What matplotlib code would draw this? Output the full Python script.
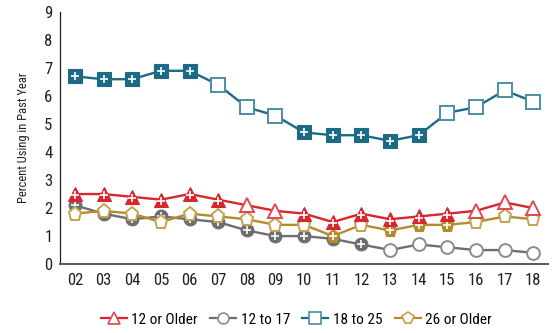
import numpy as np
import matplotlib.pyplot as plt
from matplotlib import font_manager

# condensed sans if present, otherwise regular
families = []
for fam in ['Liberation Sans Narrow', 'Roboto Condensed', 'Liberation Sans']:
    try:
        font_manager.findfont(fam, fallback_to_default=False)
        families.append(fam)
    except ValueError:
        pass
plt.rcParams['font.family'] = families + ['DejaVu Sans']

years = ['02', '03', '04', '05', '06', '07', '08', '09', '10',
         '11', '12', '13', '14', '15', '16', '17', '18']

age_12_older = [2.5, 2.5, 2.4, 2.3, 2.5, 2.3, 2.1, 1.9, 1.8,
                1.5, 1.8, 1.6, 1.7, 1.8, 1.9, 2.2, 2.0]
age_12_17 = [2.1, 1.8, 1.6, 1.7, 1.6, 1.5, 1.2, 1.0, 1.0,
             0.9, 0.7, 0.5, 0.7, 0.6, 0.5, 0.5, 0.4]
age_18_25 = [6.7, 6.6, 6.6, 6.9, 6.9, 6.4, 5.6, 5.3, 4.7,
             4.6, 4.6, 4.4, 4.6, 5.4, 5.6, 6.2, 5.8]
age_26_older = [1.8, 1.9, 1.8, 1.5, 1.8, 1.7, 1.6, 1.4, 1.4,
                1.0, 1.4, 1.2, 1.4, 1.4, 1.5, 1.7, 1.6]

# 1 = estimate differs significantly from the 2018 estimate (filled marker with +)
sig_12_older = [1, 1, 1, 1, 1, 1, 0, 0, 1, 1, 1, 1, 1, 1, 0, 0, 0]
sig_12_17 = [1, 1, 1, 1, 1, 1, 1, 1, 1, 1, 1, 0, 0, 0, 0, 0, 0]
sig_18_25 = [1, 1, 1, 1, 1, 0, 0, 0, 1, 1, 1, 1, 1, 0, 0, 0, 0]
sig_26_older = [0, 0, 0, 0, 0, 0, 0, 0, 0, 1, 0, 1, 1, 1, 0, 0, 0]

# label, values, significance, line colour, open-marker edge, marker, size, layer
series = [
    ('12 or Older', age_12_older, sig_12_older, '#d7262e', '#df4a52', '^', 10.2, 40),
    ('12 to 17', age_12_17, sig_12_17, '#6d6e71', '#8a8b8e', 'o', 9.2, 10),
    ('18 to 25', age_18_25, sig_18_25, '#1d6a86', '#4c8ea8', 's', 9.4, 30),
    ('26 or Older', age_26_older, sig_26_older, '#b38d2c', '#c4a24e', 'p', 9.8, 20),
]

fig = plt.figure(figsize=(5.56, 3.33), dpi=100)
ax = fig.add_axes([0.108, 0.207, 0.878, 0.757])

x = np.arange(len(years))
handles = []
for label, vals, sig, col, edge_open, mk, ms, z in series:
    vals = np.array(vals)
    sig = np.array(sig, dtype=bool)
    ax.plot(x, vals, '-', color=col, lw=1.7, zorder=z)
    # open markers: no significant difference
    ax.plot(x[~sig], vals[~sig], ls='none', marker=mk, ms=ms, mfc='white',
            mec=edge_open, mew=1.4, zorder=z + 1)
    # filled markers with a white plus
    ax.plot(x[sig], vals[sig], ls='none', marker=mk, ms=ms, mfc=col,
            mec=col, mew=0.8, zorder=z + 1)
    off = -0.05 if mk == '^' else 0.0
    ax.plot(x[sig], vals[sig] + off, ls='none', marker='+', ms=5.8,
            mec='white', mew=1.2, zorder=z + 2)
    h, = ax.plot([], [], '-', color=col, lw=1.6, marker=mk, ms=ms * 0.85,
                 mfc='white', mec=edge_open, mew=1.2, label=label)
    handles.append(h)

ax.set_xlim(-0.52, 16.52)
ax.set_ylim(0, 9)
ax.set_xticks(x)
ax.set_xticklabels(years)
ax.set_yticks(range(10))
ax.tick_params(length=0, labelsize=12, colors='#231f20')
ax.tick_params(axis='y', pad=5.5)
ax.tick_params(axis='x', pad=6.5)

for side in ['top', 'right']:
    ax.spines[side].set_visible(False)
ax.spines['left'].set_color('#231f20')
ax.spines['left'].set_linewidth(0.9)
ax.spines['bottom'].set_color('#58595b')
ax.spines['bottom'].set_linewidth(1.4)

ax.set_ylabel('Percent Using in Past Year', fontsize=9, color='#231f20', labelpad=10)

fig.legend(handles=handles, loc='center', bbox_to_anchor=(0.533, 0.04), ncol=4,
           frameon=False, fontsize=11, handlelength=1.7, handletextpad=0.3,
           columnspacing=0.8, numpoints=1)

fig.savefig('out.png', dpi=100, facecolor='white')
